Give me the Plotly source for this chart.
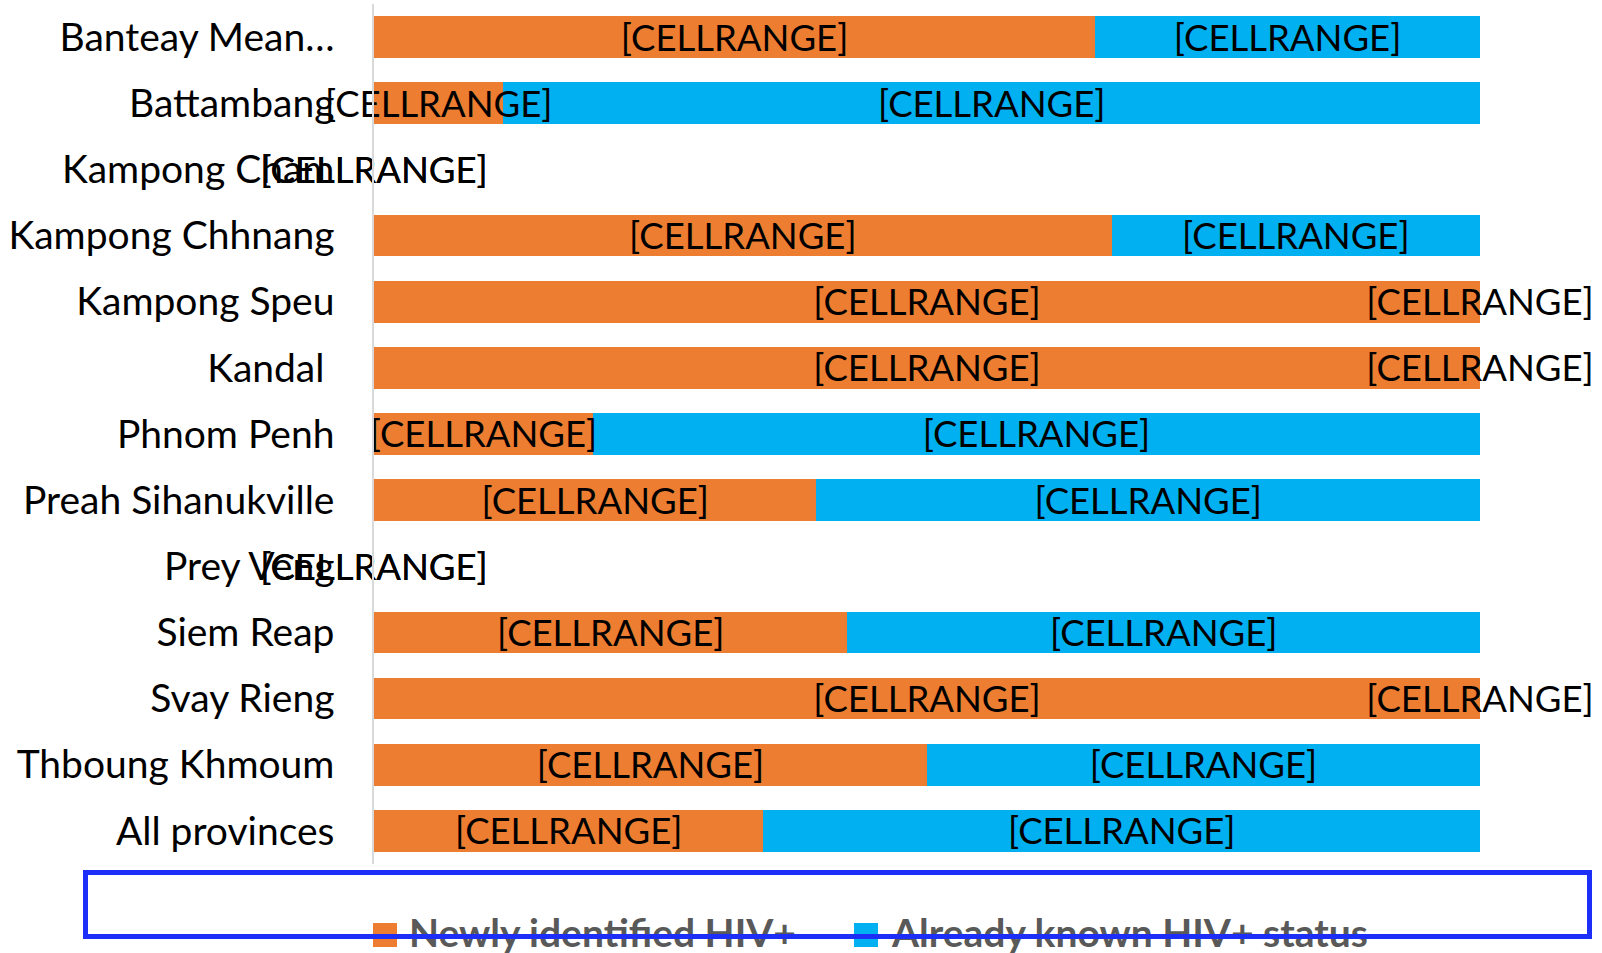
import plotly.graph_objects as go

# ---------------- data ----------------
categories = ["Banteay Mean…", "Battambang", "Kampong Cham", "Kampong Chhnang",
              "Kampong Speu", "Kandal ", "Phnom Penh", "Preah Sihanukville",
              "Prey Veng", "Siem Reap", "Svay Rieng", "Thboung Khmoum", "All provinces"]
newly_identified = [0.652, 0.117, 0.0, 0.667, 1.0, 1.0, 0.198, 0.400, 0.0, 0.428, 1.0, 0.500, 0.352]
already_known = [0.348, 0.883, 0.0, 0.333, 0.0, 0.0, 0.802, 0.600, 0.0, 0.572, 0.0, 0.500, 0.648]
series_names = ["Newly identified HIV+", "Already known HIV+ status"]
data_label = "[CELLRANGE]"

# ---------------- style ----------------
W, H = 1602, 953
ML, MR, MT, MB = 374, 122, 4, 89
PW, PH = W - ML - MR, H - MT - MB
FONT = "Lato"
ORANGE, BLUE = "#ED7D31", "#00B0F0"
LABEL_SHIFT = 0.065  # small downward nudge of the data labels (category units)


def px_x(p):
    return (p - ML) / PW


def px_y(p):
    return (MT + PH - p) / PH


ticktext = [c.replace(" ", "\u00a0") if c.endswith(" ") else c for c in categories]
n_cat = len(categories)

fig = go.Figure()
fig.add_trace(go.Bar(orientation="h", y=categories, x=newly_identified,
                     marker=dict(color=ORANGE, line=dict(width=0)),
                     name=series_names[0], showlegend=False))
fig.add_trace(go.Bar(orientation="h", y=categories, x=already_known,
                     marker=dict(color=BLUE, line=dict(width=0)),
                     name=series_names[1], showlegend=False))

# data labels centred in each segment
x_new = [n / 2 for n in newly_identified]
x_known = [n + k / 2 for n, k in zip(newly_identified, already_known)]
for xs in (x_new, x_known):
    fig.add_trace(go.Scatter(x=xs, y=categories, mode="text", yaxis="y2",
                             text=[data_label] * n_cat,
                             textposition="middle center",
                             textfont=dict(family=FONT, size=36.5, color="#000000"),
                             cliponaxis=False, showlegend=False, hoverinfo="skip"))

fig.update_layout(
    width=W, height=H,
    margin=dict(l=ML, r=MR, t=MT, b=MB, pad=0, autoexpand=False),
    barmode="stack", bargap=0.37,
    plot_bgcolor="white", paper_bgcolor="white",
    showlegend=False,
    xaxis=dict(range=[0, 1], visible=False, showgrid=False, zeroline=False),
    yaxis=dict(type="category", categoryorder="array", categoryarray=categories,
               range=[n_cat - 0.5, -0.5], tickvals=categories, ticktext=ticktext,
               showline=True, linecolor="#d9d9d9", linewidth=1.5,
               showgrid=False, zeroline=False, ticks="",
               ticklabelstandoff=30,
               tickfont=dict(family=FONT, size=39, color="#000000")),
    yaxis2=dict(type="category", categoryorder="array", categoryarray=categories,
                overlaying="y", visible=False,
                range=[n_cat - 0.5 - LABEL_SHIFT, -0.5 - LABEL_SHIFT]),
)

# manual legend: squares + texts
legend_sq = [(373, 397, ORANGE), (854, 878, BLUE)]
for x0, x1, col in legend_sq:
    fig.add_shape(type="rect", xref="paper", yref="paper",
                  x0=px_x(x0), x1=px_x(x1), y0=px_y(947), y1=px_y(923),
                  fillcolor=col, line=dict(width=0), layer="above")
legend_x = [407, 889]
for name, lx in zip(series_names, legend_x):
    fig.add_annotation(xref="paper", yref="paper", x=px_x(lx), y=px_y(932),
                       xanchor="left", yanchor="middle", showarrow=False,
                       text="<b>" + name + "</b>",
                       font=dict(family=FONT, size=39, color="#595959"))

# blue selection frame around the legend (drawn over the legend text)
fig.add_annotation(xref="paper", yref="paper", x=px_x(837.2), y=px_y(904),
                   xanchor="center", yanchor="middle", showarrow=False,
                   text=" ", width=1499, height=59, borderpad=0,
                   bordercolor="#1c2ef8", borderwidth=5, bgcolor="rgba(0,0,0,0)")

fig.write_html("out.html", config={"displayModeBar": False},
               post_script="document.body.style.margin='0';document.body.style.overflow='hidden';")
